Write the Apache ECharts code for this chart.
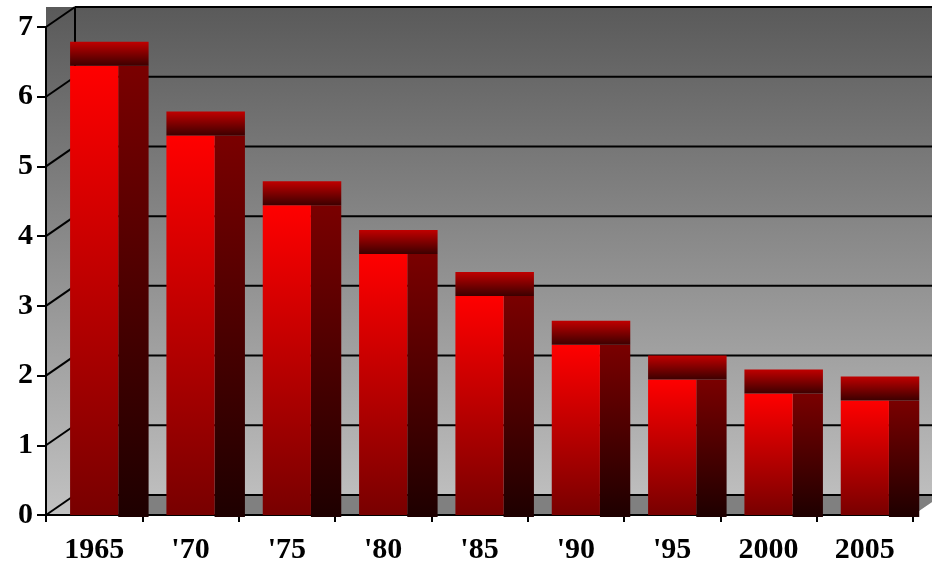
<!DOCTYPE html>
<html>
<head>
<meta charset="utf-8">
<script src="https://cdn.jsdelivr.net/npm/echarts@6/dist/echarts.min.js"></script>
<style>
  html, body { margin: 0; padding: 0; background: #fff; }
  #chart { width: 932px; height: 570px; }
</style>
</head>
<body>
<div id="chart"></div>
<script>
// chart data
const years = ['1965', "'70", "'75", "'80", "'85", "'90", "'95", '2000', '2005'];
const values = [6.5, 5.5, 4.5, 3.8, 3.2, 2.5, 2.0, 1.8, 1.7];
const yMin = 0;
const yMax = 7;
const yStep = 1;

// pseudo 3d depth (px)
const DX = 29;
const DY = 20;
const TOP_H = 24;

const grad = (a, b) => ({
  type: 'linear', x: 0, y: 0, x2: 0, y2: 1,
  colorStops: [{ offset: 0, color: a }, { offset: 1, color: b }]
});

const chart = echarts.init(document.getElementById('chart'));

function renderWalls(params, api) {
  const cs = params.coordSys;
  const W = api.getWidth();
  const x0 = cs.x, x1 = cs.x + cs.width;
  const yTop = cs.y, y0 = cs.y + cs.height;
  const rightY = y0 - (W - x1) * DY / DX;
  const children = [];
  // walls background
  children.push({
    type: 'polygon',
    shape: { points: [[x0, yTop - DY], [W, yTop - DY], [W, rightY], [x1, y0], [x0, y0]] },
    style: { fill: grad('#5a5a5a', '#c2c2c2') }
  });
  // floor
  children.push({
    type: 'polygon',
    shape: { points: [[x0 + DX, y0 - DY], [W, y0 - DY], [W, rightY], [x1, y0], [x0 + DX, y0]] },
    style: { fill: '#808080' }
  });
  for (let v = yMin; v <= yMax; v += yStep) {
    const y = api.coord([0, v])[1];
    children.push({
      type: 'line',
      shape: { x1: x0 + DX, y1: y - DY, x2: W, y2: y - DY },
      style: { stroke: '#000', lineWidth: 2 }
    });
    children.push({
      type: 'line',
      shape: { x1: x0, y1: y, x2: x0 + DX, y2: y - DY },
      style: { stroke: '#000', lineWidth: 2 }
    });
  }
  children.push({
    type: 'line',
    shape: { x1: x0 + DX, y1: yTop - DY, x2: x0 + DX, y2: y0 - DY },
    style: { stroke: '#000', lineWidth: 2 }
  });
  return { type: 'group', children: children };
}

function renderBar(params, api) {
  const idx = api.value(0);
  const v = api.value(1);
  const c = api.coord([idx, v]);
  const base = api.coord([idx, 0]);
  const band = api.size([1, 0])[0];
  const fw = band * 0.5;
  const sw = band * 0.315;
  const left = c[0] - fw / 2;
  const topY = c[1] - DY;
  const frontTop = topY + TOP_H;
  return {
    type: 'group',
    children: [
      {
        type: 'rect',
        shape: { x: left + fw, y: frontTop, width: sw, height: base[1] + 2 - frontTop },
        style: { fill: grad('#7a0000', '#1e0000') }
      },
      {
        type: 'rect',
        shape: { x: left, y: frontTop, width: fw, height: base[1] - frontTop },
        style: { fill: grad('#ff0000', '#780000') }
      },
      {
        type: 'rect',
        shape: { x: left, y: topY, width: fw + sw, height: TOP_H },
        style: { fill: grad('#c00000', '#3c0000') }
      }
    ]
  };
}

const labelFont = {
  fontFamily: 'Liberation Serif',
  fontWeight: 'bold',
  fontSize: 30,
  color: '#000'
};

chart.setOption({
  animation: false,
  backgroundColor: '#fff',
  grid: { left: 46, right: 19, top: 27, bottom: 55 },
  xAxis: {
    type: 'category',
    data: years,
    z: 2,
    boundaryGap: true,
    axisLine: { lineStyle: { color: '#000', width: 2 } },
    axisTick: { show: true, length: 7, lineStyle: { color: '#000', width: 2 } },
    axisLabel: Object.assign({ margin: 20 }, labelFont),
    splitLine: { show: false }
  },
  yAxis: {
    type: 'value',
    min: yMin,
    max: yMax,
    interval: yStep,
    z: 2,
    axisLine: { show: true, lineStyle: { color: '#000', width: 2 } },
    axisTick: { show: true, length: 9, lineStyle: { color: '#000', width: 2 } },
    axisLabel: Object.assign({ margin: 13 }, labelFont),
    splitLine: { show: false }
  },
  series: [
    {
      type: 'custom',
      name: 'walls',
      z: 1,
      silent: true,
      renderItem: renderWalls,
      data: [[0, 0]]
    },
    {
      type: 'custom',
      name: 'bars',
      z: 3,
      renderItem: renderBar,
      encode: { x: 0, y: 1 },
      data: years.map((y, i) => [i, values[i]])
    }
  ]
});
</script>
</body>
</html>
